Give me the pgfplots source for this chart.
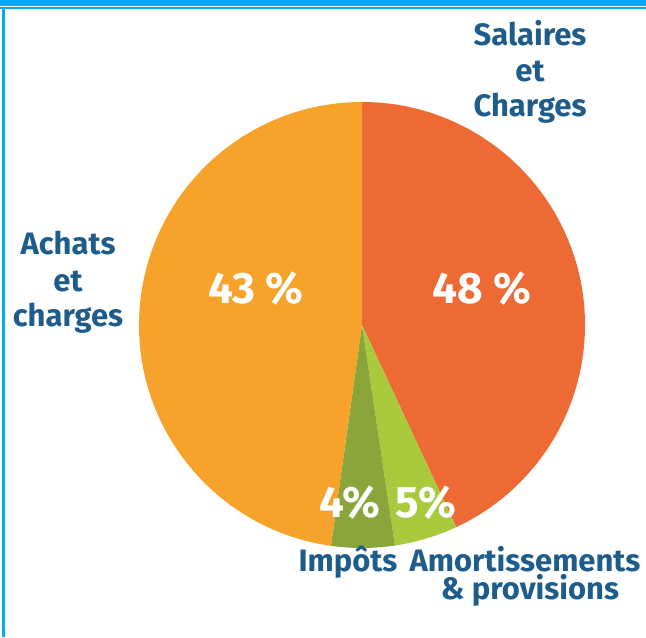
\documentclass[border=0pt]{standalone}
\usepackage{pgfplots}
\pgfplotsset{compat=1.18}
\usepackage{pgfplotstable}
\usepackage{fontspec}
\setmainfont{Fira Sans}
\definecolor{cSal}{RGB}{238,106,52}
\definecolor{cAch}{RGB}{247,162,42}
\definecolor{cAmo}{RGB}{168,202,60}
\definecolor{cImp}{RGB}{138,166,58}
\definecolor{cTxt}{RGB}{30,92,140}
\definecolor{cFrame}{RGB}{0,172,236}
% share of the circle as drawn (clockwise from 12 o'clock)
\pgfplotstableread{
slice share
Salaires 43.06
Amortissements 4.58
Impots 4.58
Achats 47.78
}\piedata
\begin{document}%
\begin{tikzpicture}
\pgfplotstablegetelem{0}{share}\of\piedata\let\sA\pgfplotsretval
\pgfplotstablegetelem{1}{share}\of\piedata\let\sB\pgfplotsretval
\pgfplotstablegetelem{2}{share}\of\piedata\let\sC\pgfplotsretval
\pgfplotstablegetelem{3}{share}\of\piedata\let\sD\pgfplotsretval
\pgfmathsetmacro\aA{90}
\pgfmathsetmacro\aB{\aA-3.6*\sA}
\pgfmathsetmacro\aC{\aB-3.6*\sB}
\pgfmathsetmacro\aD{\aC-3.6*\sC}
\pgfmathsetmacro\aE{\aD-3.6*\sD}
\begin{axis}[name=ax, scale only axis, width=323pt, height=318.5pt,
  xmin=0, xmax=646, ymin=0, ymax=637, hide axis, clip=false]
% frame
\fill[cFrame] (axis cs:0,631) rectangle (axis cs:646,637);
\fill[cFrame] (axis cs:0,628) rectangle (axis cs:646,629.5);
\fill[cFrame] (axis cs:2,0) rectangle (axis cs:5,629.5);
% pie
\fill[cSal] (axis cs:362,312) -- ++(\aA:111.5pt) arc[start angle=\aA, end angle=\aB, radius=111.5pt] -- cycle;
\fill[cAmo] (axis cs:362,312) -- ++(\aB:111.5pt) arc[start angle=\aB, end angle=\aC, radius=111.5pt] -- cycle;
\fill[cImp] (axis cs:362,312) -- ++(\aC:111.5pt) arc[start angle=\aC, end angle=\aD, radius=111.5pt] -- cycle;
\fill[cAch] (axis cs:362,312) -- ++(\aD:111.5pt) arc[start angle=\aD, end angle=\aE, radius=111.5pt] -- cycle;
% percentages
\tikzset{pct/.style={anchor=base, inner sep=0pt, text=white, font=\fontsize{22}{26}\selectfont\bfseries}}
\node[pct] at (axis cs:256,333) {43 \%};
\node[pct] at (axis cs:482,333) {48 \%};
\node[pct] at (axis cs:350,120) {4\%};
\node[pct] at (axis cs:426,120) {5\%};
% labels
\tikzset{lab/.style={anchor=base, inner sep=0pt, text=cTxt, font=\fontsize{15.5}{18}\selectfont\bfseries}}
\node[lab] at (axis cs:530,591) {Salaires};
\node[lab] at (axis cs:530,555) {et};
\node[lab] at (axis cs:530,520) {Charges};
\node[lab] at (axis cs:68,382) {Achats};
\node[lab] at (axis cs:68,345) {et};
\node[lab] at (axis cs:68,310) {charges};
\node[lab] at (axis cs:348,66) {Imp\^ots};
\node[lab] at (axis cs:525,66) {Amortissements};
\node[lab] at (axis cs:530,38) {\& provisions};
\end{axis}
\pgfresetboundingbox
\path (ax.south west) rectangle (ax.north east);
\end{tikzpicture}%
\end{document}
